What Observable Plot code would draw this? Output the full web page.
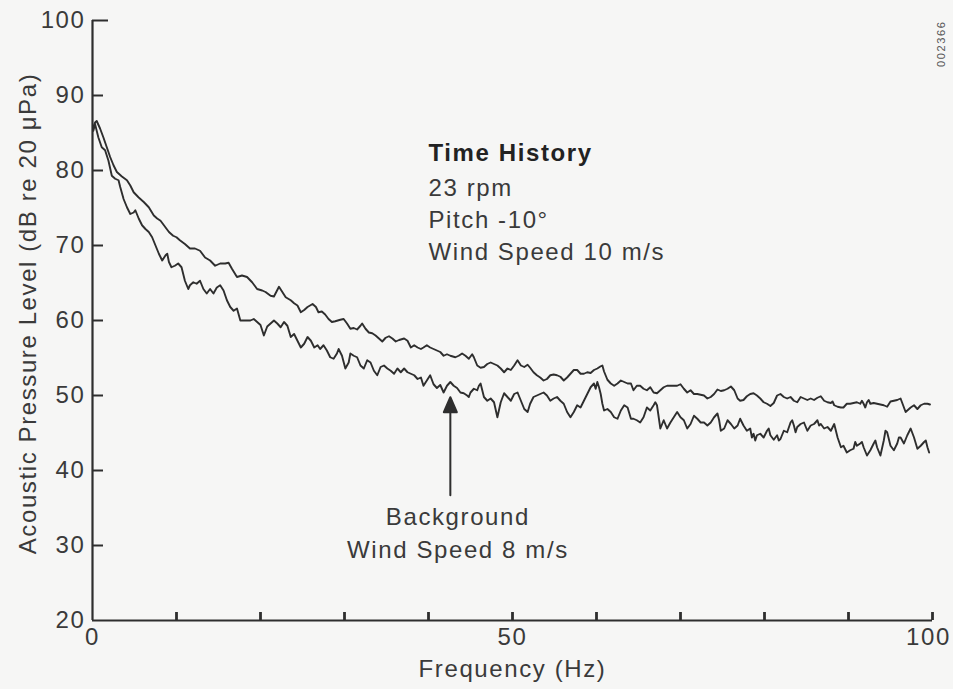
<!DOCTYPE html>
<html>
<head>
<meta charset="utf-8">
<script src="https://cdn.jsdelivr.net/npm/d3@7"></script>
<script src="https://cdn.jsdelivr.net/npm/@observablehq/plot@0.6"></script>
<style>
  html, body { margin: 0; padding: 0; background: #f6f6f5; }
  #chart svg { display: block; }
</style>
</head>
<body>
<div id="chart"></div>
<script>
// ---- Data (frequency in Hz, level in dB re 20 µPa) ----
const freqTimeHistory = [0.1,0.3,0.5,0.9,1.3,1.7,2.1,2.5,2.9,3.5,4.1,4.5,4.9,5.5,6.1,6.7,7.3,7.7,8.1,8.5,9.1,9.6,10.0,10.4,11.0,11.6,12.2,12.8,13.4,14.0,14.6,15.2,15.8,16.2,16.6,17.2,17.8,18.4,19.0,19.6,20.2,20.6,21.2,21.6,22.2,22.6,23.0,23.6,24.0,24.4,24.8,25.2,25.6,26.2,26.6,26.9,27.3,27.7,28.1,28.5,28.9,29.5,29.9,30.3,30.7,31.1,31.5,31.9,32.1,32.5,32.9,33.3,33.7,34.1,34.5,34.9,35.3,35.7,36.1,36.5,37.1,37.5,37.9,38.3,38.7,39.1,39.4,39.8,40.2,40.6,41.0,41.4,41.8,42.2,42.6,43.2,43.6,44.0,44.4,44.8,45.2,45.4,45.8,46.2,46.6,47.0,47.4,47.8,48.2,48.6,49.0,49.4,49.8,50.2,50.6,51.0,51.4,51.8,52.1,52.5,52.9,53.3,53.7,54.1,54.5,54.9,55.3,55.7,56.1,56.5,56.9,57.3,57.7,58.1,58.5,58.9,59.3,59.7,60.1,60.5,60.7,60.9,61.3,61.7,62.1,62.5,62.9,63.3,63.7,64.1,64.4,64.8,65.2,65.6,66.0,66.4,66.8,67.2,67.6,68.0,68.4,68.8,69.2,69.6,70.0,70.4,70.8,71.2,71.6,72.0,72.4,72.8,73.2,73.6,74.0,74.4,74.8,75.2,75.6,76.0,76.4,76.8,77.1,77.5,77.9,78.3,78.7,79.1,79.5,79.9,80.3,80.7,81.1,81.5,81.9,82.3,82.7,83.1,83.5,83.9,84.3,84.7,85.1,85.5,85.9,86.3,86.7,87.1,87.5,87.9,88.1,88.3,88.7,89.1,89.4,89.8,90.2,90.6,91.0,91.4,91.6,91.8,92.0,92.2,92.4,92.6,93.0,93.4,93.8,94.2,94.6,95.0,95.4,95.8,96.2,96.6,96.8,97.0,97.4,97.8,98.2,98.6,99.0,99.4,99.7];
const levelTimeHistory = [85.8,86.4,86.6,85.6,84.4,83.1,81.8,80.7,79.8,79.2,78.7,78.0,77.1,76.4,75.8,75.1,74.0,73.6,73.3,72.7,71.8,71.3,71.1,70.7,70.2,69.6,69.6,69.3,68.4,68.0,67.3,67.6,67.6,67.7,66.9,65.8,66.0,65.8,65.1,64.2,64.0,63.8,63.3,63.2,64.5,63.8,63.1,62.7,62.3,62.0,61.1,61.4,61.8,62.2,61.8,61.1,61.2,60.8,60.2,59.8,59.9,60.1,60.2,59.6,58.9,59.0,58.8,59.3,59.6,58.9,58.4,58.3,58.0,57.6,57.2,57.7,57.9,57.6,57.2,57.4,57.6,57.3,56.4,56.7,56.4,56.2,56.4,56.7,56.4,56.2,56.0,55.8,55.3,55.5,55.3,55.1,55.3,55.6,55.3,54.9,55.5,55.1,54.0,53.7,53.8,54.2,54.4,54.2,54.0,53.6,53.1,53.6,53.4,54.0,54.7,54.0,53.8,54.1,53.7,53.1,52.7,52.4,52.0,52.2,52.7,52.8,52.7,52.5,52.0,52.4,52.9,53.4,53.4,52.9,52.9,53.1,53.0,53.4,53.6,53.9,54.0,53.2,52.1,51.6,51.3,51.6,52.0,51.8,51.6,51.6,50.7,51.3,51.3,50.9,50.7,51.1,50.4,50.3,50.7,51.1,51.3,51.3,51.3,51.3,51.5,50.9,50.4,50.7,50.2,50.2,50.1,50.0,49.6,49.8,50.2,50.8,50.6,50.7,50.9,51.2,50.7,49.6,49.3,49.4,49.9,50.2,50.3,50.0,49.6,49.1,48.9,48.6,49.0,50.0,50.2,49.8,49.6,49.8,49.3,49.1,49.8,49.6,49.4,49.6,49.4,49.7,49.9,49.3,49.1,49.0,49.2,48.7,48.5,48.4,48.4,48.9,48.9,49.0,49.1,48.9,49.3,48.9,48.4,49.1,49.4,48.9,49.0,48.9,48.8,48.7,48.5,49.2,49.3,49.4,49.6,48.4,47.8,48.0,48.4,48.7,48.2,48.7,48.9,48.9,48.8];

const freqBackground = [0.1,0.3,0.7,1.1,1.5,1.9,2.3,2.7,3.1,3.3,3.7,4.1,4.5,4.9,5.1,5.5,5.9,6.3,6.7,7.1,7.5,7.9,8.3,8.7,8.9,9.1,9.4,9.8,10.2,10.6,11.0,11.4,11.6,12.0,12.4,12.8,13.2,13.6,14.0,14.4,14.8,15.2,15.6,16.0,16.4,16.8,17.2,17.6,18.2,18.8,19.2,19.6,20.0,20.4,20.8,21.2,21.6,22.0,22.4,22.8,23.2,23.6,24.0,24.4,24.8,25.2,25.6,26.0,26.4,26.8,27.1,27.5,27.9,28.3,28.7,29.1,29.3,29.7,30.1,30.5,30.7,31.1,31.5,31.9,32.3,32.7,33.1,33.5,33.9,34.3,34.7,35.1,35.5,35.9,36.3,36.7,37.1,37.5,37.9,38.3,38.7,39.1,39.4,39.8,40.2,40.6,41.0,41.4,41.8,42.2,42.6,43.0,43.4,43.8,44.2,44.6,44.8,45.0,45.4,45.8,46.0,46.2,46.6,47.0,47.4,47.8,48.2,48.6,49.0,49.4,49.8,50.2,50.6,51.0,51.4,51.8,52.1,52.5,52.9,53.3,53.7,54.1,54.5,54.9,55.3,55.7,56.1,56.5,56.9,57.3,57.7,58.1,58.5,58.9,59.3,59.7,59.9,60.1,60.3,60.5,60.7,60.9,61.3,61.7,62.1,62.5,62.9,63.3,63.7,64.1,64.4,64.8,65.2,65.6,66.0,66.4,66.8,67.0,67.2,67.6,68.0,68.4,68.8,69.2,69.6,70.0,70.4,70.8,71.2,71.6,72.0,72.4,72.8,73.2,73.6,74.0,74.4,74.6,74.8,75.2,75.6,76.0,76.4,76.8,77.1,77.5,77.9,78.3,78.5,78.7,78.9,79.1,79.5,79.9,80.3,80.5,80.7,81.1,81.5,81.7,81.9,82.3,82.7,83.1,83.3,83.5,83.7,83.9,84.3,84.7,85.1,85.5,85.9,86.3,86.5,86.7,87.1,87.5,87.9,88.3,88.7,89.1,89.4,89.8,90.2,90.6,90.8,91.0,91.4,91.6,91.8,92.2,92.6,93.0,93.2,93.4,93.8,94.2,94.4,94.6,95.0,95.4,95.8,96.0,96.2,96.6,97.0,97.4,97.8,98.2,98.6,99.0,99.2,99.4,99.6];
const levelBackground = [85.3,86.2,84.4,83.1,82.7,81.3,79.3,78.9,78.7,77.8,76.2,75.1,74.2,74.4,74.7,73.6,72.7,72.2,71.8,71.1,70.0,68.9,68.0,68.7,68.9,67.8,67.1,67.3,67.6,67.1,65.3,64.2,64.7,65.1,64.9,65.3,64.2,63.6,64.2,63.6,64.4,64.7,64.0,62.7,61.8,61.3,61.6,60.0,60.0,60.0,60.2,59.8,59.4,58.0,59.2,59.6,60.0,59.6,59.1,59.8,59.3,57.8,58.2,57.3,56.4,56.9,57.8,57.3,56.4,56.7,56.2,56.7,56.0,55.1,54.9,55.6,56.2,55.3,53.6,54.4,55.6,55.3,55.1,54.0,53.6,54.7,54.4,53.3,52.7,53.8,54.0,53.6,53.3,52.9,53.6,53.1,53.6,53.1,52.9,52.7,52.2,52.4,51.3,52.0,52.7,51.5,51.0,51.4,50.4,51.3,51.8,51.3,51.0,50.4,50.3,50.0,49.8,50.4,50.9,50.7,51.3,51.6,49.8,49.3,49.6,49.1,47.1,49.1,50.3,49.8,49.3,50.2,50.4,49.3,48.2,47.8,48.9,49.8,50.0,50.2,50.4,50.0,49.3,49.6,49.8,49.3,48.9,47.8,47.1,47.8,48.7,48.4,49.3,50.2,51.1,51.6,50.9,51.8,51.1,50.2,48.9,48.0,48.2,47.8,47.1,46.9,48.0,48.7,48.4,46.9,46.9,46.7,46.4,47.1,48.4,48.0,48.7,49.1,48.7,45.6,46.7,45.6,46.4,47.1,47.8,47.1,46.7,45.6,46.2,47.3,46.9,46.4,46.4,46.0,46.4,47.1,47.6,46.7,45.3,45.6,46.7,46.2,45.6,46.0,46.9,46.0,45.3,45.6,44.4,44.9,44.0,44.7,44.9,44.4,45.3,45.6,44.7,44.1,44.7,44.0,44.2,45.3,45.1,46.4,46.7,46.0,45.1,45.8,46.2,46.4,45.3,46.0,46.2,46.7,46.0,46.2,45.6,45.8,45.3,46.2,44.4,43.1,43.3,42.4,42.7,42.9,43.8,43.3,43.6,43.8,43.1,42.0,42.7,43.6,44.0,43.1,42.0,44.0,45.3,45.1,43.3,42.7,43.6,44.4,44.4,43.6,44.7,45.6,44.4,42.9,43.3,43.8,44.0,43.1,42.4];

const yTickValues = [30, 40, 50, 60, 70, 80, 90];
const yLabelValues = [20, 30, 40, 50, 60, 70, 80, 90, 100];
const xTickValues = [10, 20, 30, 40, 50, 60, 70, 80, 90, 100];
const xLabelValues = [0, 50];
const xLabelEnd = [100];

const xTitle = "Frequency (Hz)";
const yTitle = "Acoustic Pressure Level (dB re 20 \u03bcPa)";
const noteTitle = "Time History";
const noteLines = ["23 rpm", "Pitch -10\u00b0", "Wind Speed 10 m/s"];
const bgLines = ["Background", "Wind Speed 8 m/s"];
const figureId = "002366";

// ---- build tables ----
const timeHistory = freqTimeHistory.map((f, i) => ({f, L: levelTimeHistory[i]}));
const background = freqBackground.map((f, i) => ({f, L: levelBackground[i]}));

const ink = "#2e2e2e";
const textInk = "#3a3a3a";

// annotation anchor positions (in data units)
const noteX = 40.0;
const noteY = [82.3, 77.6, 73.4, 69.1];
const bgX = 43.5;
const bgY = [33.7, 29.4];
const arrowBase = {x: 42.6, y: 36.7};

const arrowShape = {
  draw(context, l) {
    context.moveTo(0, 0);
    context.lineTo(0, -l + 14);
    context.moveTo(-6.5, -l + 15);
    context.lineTo(0, -l);
    context.lineTo(6.5, -l + 15);
    context.closePath();
  }
};

const chart = Plot.plot({
  width: 953,
  height: 689,
  marginLeft: 92,
  marginRight: 21,
  marginTop: 20,
  marginBottom: 69,
  style: {
    background: "#f6f6f5",
    fontFamily: "'Liberation Sans', Arial, Helvetica, sans-serif",
    fontSize: "24px",
    color: textInk,
    letterSpacing: "1.6px"
  },
  x: {domain: [0, 100]},
  y: {domain: [20, 100]},
  marks: [
    // axis lines
    Plot.ruleX([0], {stroke: ink, strokeWidth: 2.2}),
    Plot.ruleY([20], {stroke: ink, strokeWidth: 2.2}),
    // y ticks (pointing inward) and labels
    Plot.axisY(yTickValues, {tickSize: -11, stroke: ink, strokeWidth: 2, fill: "none", label: null}),
    Plot.axisY([100], {tickSize: -16, stroke: ink, strokeWidth: 2, fill: "none", label: null}),
    Plot.axisY(yLabelValues, {tickSize: 0, tickPadding: 7, fontSize: 24, fill: textInk, label: null}),
    // x ticks (pointing inward) and labels
    Plot.axisX(xTickValues, {tickSize: -8, stroke: ink, strokeWidth: 2.8, fill: "none", label: null}),
    Plot.axisX(xLabelValues, {tickSize: 0, tickPadding: 7, fontSize: 24, fill: textInk, label: null}),
    Plot.axisX(xLabelEnd, {tickSize: 0, tickPadding: 7, dx: -4, fontSize: 24, fill: textInk, label: null}),
    // axis titles
    Plot.text([xTitle], {frameAnchor: "bottom", dy: 49, lineAnchor: "middle", fontSize: 24, fill: textInk, text: d => d}),
    Plot.text([yTitle], {frameAnchor: "left", dx: -64, dy: -7, rotate: -90, textAnchor: "middle", lineAnchor: "middle", fontSize: 24, fill: textInk, text: d => d}),
    // spectra
    Plot.line(timeHistory, {x: "f", y: "L", stroke: ink, strokeWidth: 1.9}),
    Plot.line(background, {x: "f", y: "L", stroke: ink, strokeWidth: 1.9}),
    // annotation: time history
    Plot.text([noteTitle], {x: noteX, y: noteY[0], text: d => d, textAnchor: "start", fontWeight: "bold", fontSize: 24, fill: "#222"}),
    Plot.text(noteLines, {x: noteX, y: (d, i) => noteY[i + 1], text: d => d, textAnchor: "start", fontSize: 24, fill: textInk}),
    // annotation: background
    Plot.text(bgLines, {x: bgX, y: (d, i) => bgY[i], text: d => d, textAnchor: "middle", fontSize: 24, fill: textInk}),
    Plot.vector([arrowBase], {x: "x", y: "y", length: 98, anchor: "start", shape: arrowShape, stroke: ink, strokeWidth: 2, fill: ink}),
    // figure id
    Plot.text([figureId], {x: 101.1, y: 96.9, text: d => d, rotate: -90, fontSize: 11, fill: "#555", clip: false})
  ]
});

document.getElementById("chart").appendChild(chart);
</script>
</body>
</html>
